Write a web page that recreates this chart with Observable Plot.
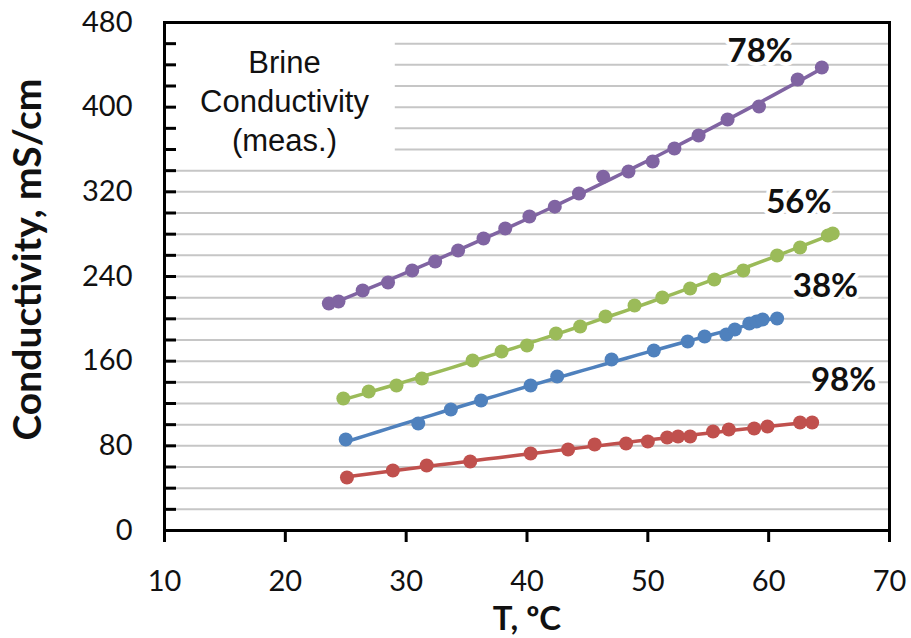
<!DOCTYPE html>
<html><head><meta charset="utf-8">
<script src="https://cdn.jsdelivr.net/npm/d3@7"></script>
<script src="https://cdn.jsdelivr.net/npm/@observablehq/plot@0.6"></script>
<style>body{margin:0;background:#fff}</style>
</head><body><div id="chart"></div>
<script>
// Series: temperature (ºC) and conductivity (mS/cm)
const seriesNames = ["78%", "56%", "38%", "98%"];
const seriesColors = ["#8064A2", "#9BBB59", "#4F81BD", "#C0504D"];
const T78 = [23.6,24.4,26.4,28.5,30.5,32.4,34.3,36.4,38.2,40.2,42.3,44.3,46.3,48.4,50.4,52.2,54.2,56.6,59.2,62.4,64.4];
const C78 = [214.5,216.4,226.8,234.3,245.7,254.2,264.6,275.9,285.4,296.7,306.0,318.4,334.2,339.2,348.7,361.0,373.2,388.4,400.6,426.2,437.5];
const T56 = [24.8,26.9,29.2,31.3,35.5,37.9,40.0,42.4,44.4,46.5,48.9,51.2,53.5,55.5,57.9,60.7,62.6,64.9,65.3];
const C56 = [124.7,131.3,137.0,143.6,160.6,169.1,174.8,186.1,192.8,202.2,212.6,220.2,228.7,237.2,245.7,259.8,267.4,278.7,280.6];
const T38 = [25.0,31.0,33.7,36.2,40.3,42.5,47.0,50.5,53.3,54.7,56.5,57.2,58.4,59.0,59.5,60.7];
const C38 = [86.0,101.1,114.3,122.8,137.0,145.5,161.6,170.1,178.6,183.3,185.2,189.9,195.6,197.5,199.4,200.3];
const T98 = [25.1,28.9,31.7,35.3,40.3,43.4,45.6,48.2,50.0,51.6,52.5,53.5,55.4,56.7,58.8,59.9,62.6,63.6];
const C98 = [50.1,56.7,61.4,65.2,72.8,76.5,81.3,82.2,84.1,87.9,88.8,88.8,93.5,95.4,96.4,98.3,102.1,102.1];
// Series label anchors (data units)
const labelT = [59.3, 62.5, 64.7, 66.2];
const labelC = [453, 310, 231, 142];
// Axis ticks
const xTicks = [10,20,30,40,50,60,70];
const yTickLabels = [0,80,160,240,320,400,480];
const yMinorTicks = d3.range(0, 481, 20);
const gridValues = d3.range(20, 461, 20);
// Annotation
const noteText = "Brine\nConductivity\n(meas.)";
const noteBox = {x1: 10, x2: 29.1, y1: 350, y2: 480};

const Ts = [T78, T56, T38, T98];
const Cs = [C78, C56, C38, C98];

function quadFit(xs, ys) {
  let s = [0,0,0,0,0], t = [0,0,0];
  xs.forEach((x, i) => {
    const y = ys[i];
    for (let k = 0; k < 5; k++) s[k] += x ** k;
    for (let k = 0; k < 3; k++) t[k] += y * x ** k;
  });
  const A = [[s[0],s[1],s[2],t[0]],[s[1],s[2],s[3],t[1]],[s[2],s[3],s[4],t[2]]];
  for (let i = 0; i < 3; i++) {
    for (let j = i + 1; j < 3; j++) {
      const f = A[j][i] / A[i][i];
      for (let k = i; k < 4; k++) A[j][k] -= f * A[i][k];
    }
  }
  const c = [0,0,0];
  for (let i = 2; i >= 0; i--) {
    let v = A[i][3];
    for (let k = i + 1; k < 3; k++) v -= A[i][k] * c[k];
    c[i] = v / A[i][i];
  }
  return x => c[0] + c[1] * x + c[2] * x * x;
}

const points = [], fits = [];
seriesNames.forEach((name, si) => {
  const xs = Ts[si], ys = Cs[si];
  xs.forEach((x, i) => points.push({series: name, T: x, C: ys[i]}));
  const f = quadFit(xs, ys);
  const lo = d3.min(xs), hi = d3.max(xs);
  d3.range(0, 41).forEach(k => { const x = lo + (hi - lo) * k / 40; fits.push({series: name, T: x, C: f(x)}); });
});
const labels = seriesNames.map((n, i) => ({text: n, T: labelT[i], C: labelC[i]}));

const chart = Plot.plot({
  width: 911, height: 638,
  marginLeft: 164, marginRight: 22, marginTop: 22, marginBottom: 108,
  style: {fontFamily: "Lato, sans-serif", background: "#fff"},
  x: {domain: [10, 70]},
  y: {domain: [0, 480]},
  color: {domain: seriesNames, range: seriesColors},
  marks: [
    Plot.ruleY(gridValues, {stroke: "#c6c6c6", strokeWidth: 2}),
    Plot.rect([noteBox], {x1: "x1", x2: "x2", y1: "y1", y2: "y2", fill: "white"}),
    Plot.text([noteText], {frameAnchor: "top-left", dx: 120, dy: 23, lineAnchor: "top", textAnchor: "middle",
      fontFamily: "Liberation Sans, Arial, sans-serif", fontSize: 31, lineHeight: 1.25, fill: "#111"}),
    Plot.line(fits, {x: "T", y: "C", z: "series", stroke: "series", strokeWidth: 3.5}),
    Plot.dot(points, {x: "T", y: "C", fill: "series", r: 7}),
    Plot.text(labels, {x: "T", y: "C", text: "text", fontSize: 33, fontWeight: "bold", fill: "#111",
      stroke: "white", strokeWidth: 8, paintOrder: "stroke"}),
    Plot.frame({stroke: "black", strokeWidth: 3}),
    Plot.axisY({ticks: yMinorTicks, tickSize: 12, dx: 12, tickFormat: () => "", label: null, strokeWidth: 3, stroke: "black"}),
    Plot.axisY({ticks: yTickLabels, tickSize: 0, tickPadding: 32, fontSize: 29, label: null, fill: "#111"}),
    Plot.axisX({ticks: xTicks, tickSize: 12, tickPadding: 28, fontSize: 29, label: null, strokeWidth: 3, stroke: "black", fill: "#111"}),
    Plot.text(["Conductivity, mS/cm"], {frameAnchor: "left", textAnchor: "middle", lineAnchor: "middle", rotate: -90, dx: -136, dy: -17, fontSize: 39, fontWeight: "bold", fill: "#111"}),
    Plot.text(["T, ºC"], {frameAnchor: "bottom", lineAnchor: "middle", dy: 89, fontSize: 33, fontWeight: "bold", fill: "#111"})
  ]
});
document.getElementById("chart").appendChild(chart);
</script>
</body></html>
